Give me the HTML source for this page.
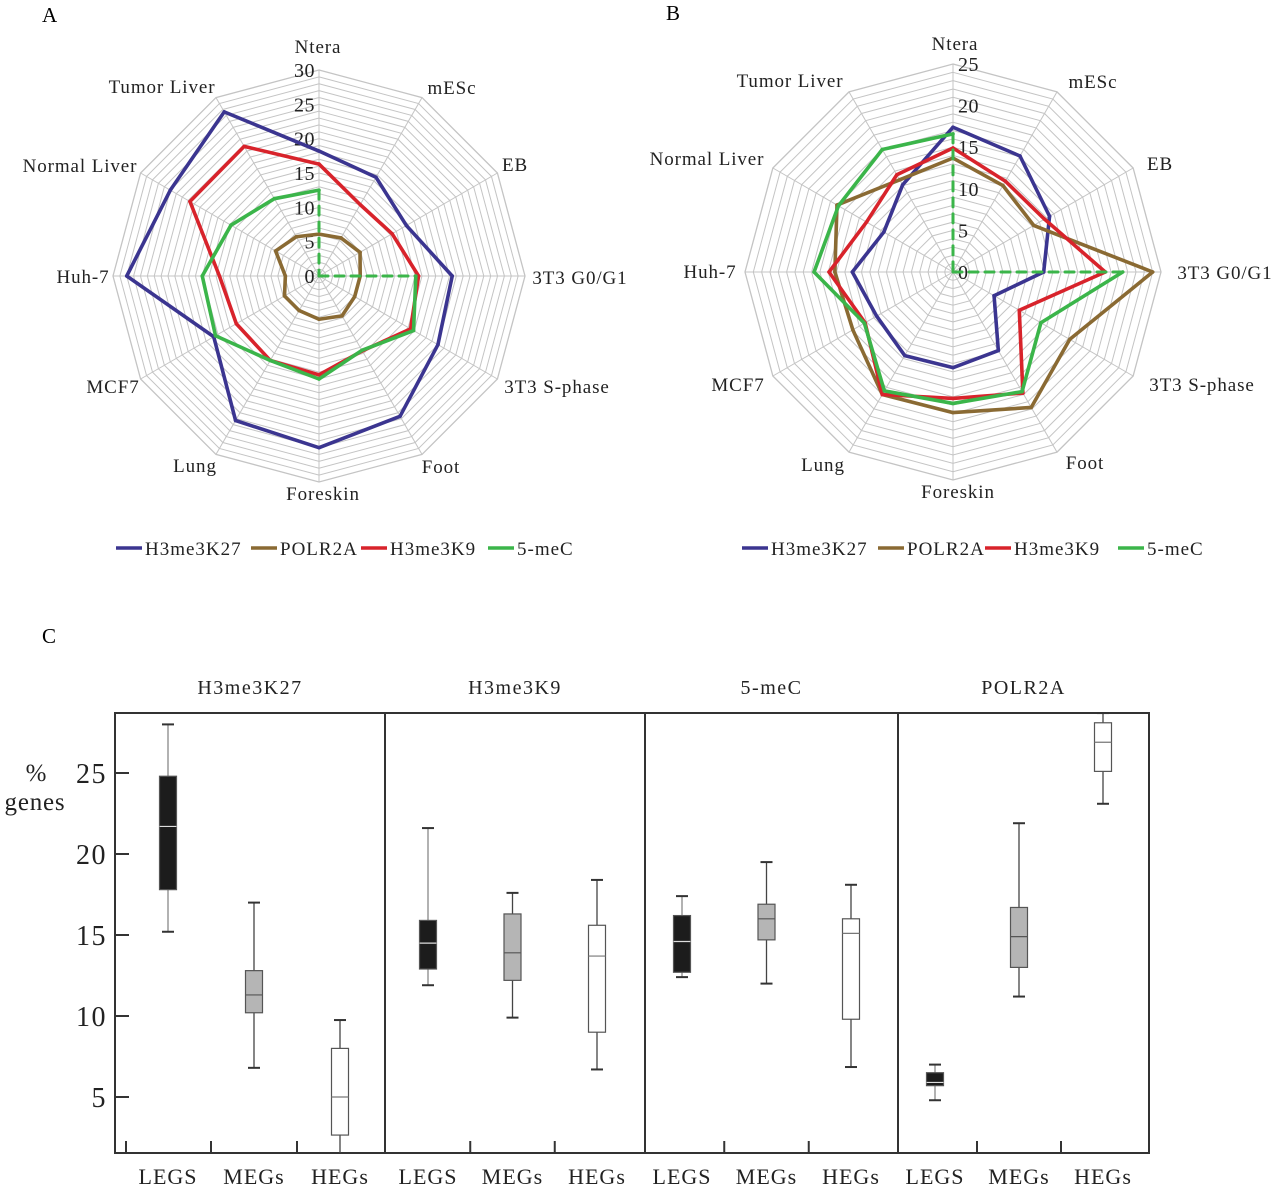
<!DOCTYPE html>
<html><head><meta charset="utf-8">
<style>
html,body{margin:0;padding:0;background:#fff;}
svg{display:block;font-family:"Liberation Serif",serif;}
</style></head>
<body>
<svg id="fig" width="1280" height="1184" viewBox="0 0 1280 1184">
<text x="42" y="22" font-size="21">A</text>
<text x="666" y="20" font-size="21">B</text>
<text x="42" y="643" font-size="21">C</text>
<g id="radarA"></g>
<g id="radarB"></g>
<g id="box"></g>
</svg>
<script>
const NS="http://www.w3.org/2000/svg";
const axesLabels=["Ntera","mESc","EB","3T3 G0/G1","3T3 S-phase","Foot","Foreskin","Lung","MCF7","Huh-7","Normal Liver","Tumor Liver"];
const seriesNames=["H3me3K27","POLR2A","H3me3K9","5-meC"];
const seriesColors=["#3b3590","#8a6a33","#d8232b","#3bb54a"];
// Panel A values (null = no value, drawn dashed to centre)
const aK27=[18.2,16.6,14.7,19.4,20,23.6,25,24.3,17.7,28,25,27.6];
const aPOL=[6.1,6.4,6.9,6,6,6.7,6.3,5.8,5.8,4.9,7.3,6.6];
const aK9=[16.3,12,12.3,14.5,15.4,12.6,14.4,14.2,13.9,14.5,21.7,21.8];
const aMeC=[12.5,null,null,14.1,15.9,12.5,15,14.2,17.4,17,14.8,13];
// Panel B values
const bK27=[17.4,16.1,13.4,10.9,5.7,10.9,11.5,11.6,10.6,12.1,9.6,12.1];
const bPOL=[13.7,12,11.2,24,16.2,18.8,16.9,17,13.9,14.2,16.1,12.8];
const bK9=[14.9,12.6,12.7,18.3,9.2,16.8,15.2,17,12.2,14.9,12,13.5];
const bMeC=[16.6,null,null,20.4,12.2,16.6,15.8,16.5,12.3,16.7,15.9,17];
const aTicks=[0,5,10,15,20,25,30];
const bTicks=[0,5,10,15,20,25];

function mk(tag,attrs,parent){const e=document.createElementNS(NS,tag);for(const k in attrs)e.setAttribute(k,attrs[k]);parent.appendChild(e);return e;}

function radar(g,cfg){
  const {cx,cy,R,max,ticks,labelPos,tickSide,series,legendX,legendY}=cfg;
  const ang=i=>i*Math.PI/6;
  const pt=(i,v)=>[cx+R*v/max*Math.sin(ang(i)),cy-R*v/max*Math.cos(ang(i))];
  for(let r=1;r<=max;r++){
    const pts=[];for(let i=0;i<12;i++)pts.push(pt(i,r).join(","));
    const p=mk("polygon",{points:pts.join(" "),fill:"none",stroke:"#c4c4c4","stroke-width":r===max?1.3:1},g);
    
    
  }
  for(let i=0;i<12;i++){
    const [x,y]=pt(i,max);
    const l=mk("line",{x1:cx,y1:cy,x2:x,y2:y,stroke:"#c4c4c4","stroke-width":1},g);
    
    
    const t=mk("text",{x:labelPos[i][0],y:labelPos[i][1],"font-size":19,"letter-spacing":0.9,"text-anchor":"middle",fill:"#222"},g);
    t.textContent=axesLabels[i];
    
    
  }
  ticks.forEach(v=>{
    const y=cy-R*v/max;
    const t=mk("text",{x:tickSide<0?cx-4:cx+5,y:y+7,"font-size":20,"letter-spacing":0.5,"text-anchor":tickSide<0?"end":"start",fill:"#222"},g);
    t.textContent=v;
    
    
  });
  series.forEach((s,si)=>{
    const vals=s.vals,col=seriesColors[si];
    for(let i=0;i<12;i++){
      const j=(i+1)%12;
      const v1=vals[i],v2=vals[j];
      const dashed=(v1===null||v2===null);
      if(v1===null&&v2===null)continue;
      const [x1,y1]=pt(i,v1===null?0:v1),[x2,y2]=pt(j,v2===null?0:v2);
      const l=mk("line",{x1,y1,x2,y2,stroke:col,"stroke-width":dashed?3:3.6,"stroke-linecap":"round"},g);
      if(dashed)l.setAttribute("stroke-dasharray","9 7");
      
      
    }
  });
  seriesNames.forEach((n,i)=>{
    const lx=legendX[i];
    const l=mk("line",{x1:lx,y1:legendY-5,x2:lx+26,y2:legendY-5,stroke:seriesColors[i],"stroke-width":3.5},g);
    
    
    const t=mk("text",{x:lx+29,y:legendY+2,"font-size":19,"letter-spacing":1,fill:"#222"},g);
    t.textContent=n;
    
    
  });
}

radar(document.getElementById("radarA"),{cx:319,cy:276,R:206,max:30,ticks:aTicks,tickSide:-1,
  labelPos:[[318,53],[452,94],[515,171],[580,284],[557,393],[441,473],[323,500],[195,472],[113,393],[83,283],[80,172],[162,93]],
  series:[{vals:aK27},{vals:aPOL},{vals:aK9},{vals:aMeC}],
  legendX:[116,251,361,488],legendY:553});
radar(document.getElementById("radarB"),{cx:953,cy:272,R:208,max:25,ticks:bTicks,tickSide:1,
  labelPos:[[955,50],[1093,88],[1160,170],[1225,279],[1202,391],[1085,469],[958,498],[823,471],[738,391],[710,278],[707,165],[790,87]],
  series:[{vals:bK27},{vals:bPOL},{vals:bK9},{vals:bMeC}],
  legendX:[742,878,985,1118],legendY:553});

// ---- Box plot ----
const panelTitles=["H3me3K27","H3me3K9","5-meC","POLR2A"];
const groups=["LEGS","MEGs","HEGs"];
const yTicks=[5,10,15,20,25];
const whiskLow=[[15.2,6.8,1.5],[11.9,9.9,6.7],[12.4,12.0,6.85],[4.8,11.2,23.1]];
const q1=[[17.8,10.2,2.65],[12.9,12.2,9.0],[12.7,14.7,9.8],[5.7,13.0,25.1]];
const med=[[21.7,11.3,5.0],[14.5,13.9,13.7],[14.6,16.0,15.1],[5.9,14.9,26.9]];
const q3=[[24.8,12.8,8.0],[15.9,16.3,15.6],[16.2,16.9,16.0],[6.5,16.7,28.1]];
const whiskHigh=[[28.0,17.0,9.75],[21.6,17.6,18.4],[17.4,19.5,18.1],[7.0,21.9,28.7]];
(function(){
  const g=document.getElementById("box");
  const top=713,bot=1153,left=115,right=1149;
  const dividers=[left,385,645,898,right];
  const firstOff=[53,43,37,37], step=[86,84.5,84.5,84];
  const y=v=>Math.max(top,Math.min(bot,1097-(v-5)*16.2));
  const fills=["#1c1c1c","#b5b5b5","#ffffff"];
  const medCol=["#ddd","#555","#777"];
  const whCol=["#888","#444","#444"];
  const r=mk("rect",{x:left,y:top,width:right-left,height:bot-top,fill:"none",stroke:"#333","stroke-width":2},g);
  
  
  for(let p=1;p<4;p++){
    const l=mk("line",{x1:dividers[p],y1:top,x2:dividers[p],y2:bot,stroke:"#333","stroke-width":2},g);
    
    
  }
  const t0=mk("line",{x1:126,y1:bot,x2:126,y2:bot-12,stroke:"#333","stroke-width":2},g);
  
  
  yTicks.forEach(v=>{
    const l=mk("line",{x1:left,y1:y(v),x2:left+14,y2:y(v),stroke:"#333","stroke-width":2},g);
    
    
    const t=mk("text",{x:107,y:y(v)+10,"font-size":28,"letter-spacing":1.5,"text-anchor":"end",fill:"#222"},g);
    t.textContent=v;
    
    
  });
  const yt=mk("text",{x:36,y:781,"font-size":25,"text-anchor":"middle",fill:"#222"},g);
  yt.textContent="%";
  
  
  const yt2=mk("text",{x:35,y:810,"font-size":25,"letter-spacing":0.8,"text-anchor":"middle",fill:"#222"},g);
  yt2.textContent="genes";
  
  
  for(let p=0;p<4;p++){
    const x0=dividers[p],x1=dividers[p+1];
    const t=mk("text",{x:(x0+x1)/2,y:694,"font-size":20,"letter-spacing":1.5,"text-anchor":"middle",fill:"#222"},g);
    t.textContent=panelTitles[p];
    
    
    for(let k=0;k<3;k++){
      const cx=x0+firstOff[p]+k*step[p];
      if(k>0){
        const bx=cx-step[p]/2;
        const tk=mk("line",{x1:bx,y1:bot,x2:bx,y2:bot-12,stroke:"#333","stroke-width":2},g);
        
        
      }
      const tl=mk("text",{x:cx,y:1184,"font-size":22,"letter-spacing":1,"text-anchor":"middle",fill:"#222"},g);
      tl.textContent=groups[k];
      
      
      const bw=17;
      const wl=mk("line",{x1:cx,y1:y(whiskHigh[p][k]),x2:cx,y2:y(whiskLow[p][k]),stroke:whCol[k],"stroke-width":1.3},g);
      
      
      [whiskHigh[p][k],whiskLow[p][k]].forEach(v=>{
        if(y(v)<=top||y(v)>=bot)return;
        const c=mk("line",{x1:cx-6,y1:y(v),x2:cx+6,y2:y(v),stroke:"#333","stroke-width":2},g);
        
        
      });
      const b=mk("rect",{x:cx-bw/2,y:y(q3[p][k]),width:bw,height:y(q1[p][k])-y(q3[p][k]),fill:fills[k],stroke:"#555","stroke-width":1.2},g);
      
      
      const m=mk("line",{x1:cx-bw/2,y1:y(med[p][k]),x2:cx+bw/2,y2:y(med[p][k]),stroke:medCol[k],"stroke-width":1.2},g);
      
      
    }
  }
})();
</script>
</body></html>
